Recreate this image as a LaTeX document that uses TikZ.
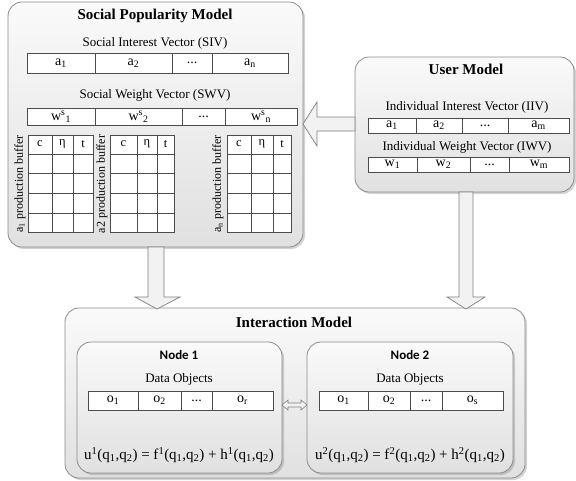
\documentclass[tikz,border=0pt]{standalone}
\usepackage{fontspec}
\setmainfont{Liberation Serif}
\newfontfamily\nodefont{Carlito}
\usetikzlibrary{shadows}
\newcommand\myellip{...}
\begin{document}
\begin{tikzpicture}[x=1pt,y=-1pt,
  panel/.style={draw=black!45, line width=0.8pt, rounded corners=14pt, top color=black!2, bottom color=black!12,
    drop shadow={shadow xshift=2pt,shadow yshift=-2pt,opacity=0.35}, anchor=north west, inner sep=0pt, outer sep=0pt},
  cell/.style={draw=black!70, line width=0.6pt, fill=white, anchor=north west, inner sep=0pt, outer sep=0pt,
    font=\fontsize{14}{15}\selectfont},
  gridl/.style={draw=black!70, line width=0.6pt},
  hdr/.style={inner sep=0pt, font=\fontsize{12.5}{13}\selectfont},
  blockarrow/.style={draw=black!50, line width=0.7pt, fill=black!5, line join=miter},
  ttl/.style={font=\fontsize{15}{17}\selectfont\bfseries},
  lbl/.style={font=\fontsize{13}{15}\selectfont},
  rlbl/.style={rotate=90, inner sep=0pt, font=\fontsize{12}{13}\selectfont},
  ntl/.style={font=\nodefont\fontsize{13}{15}\selectfont\bfseries},
  frm/.style={font=\fontsize{15}{17}\selectfont},
]
\useasboundingbox (0,0) rectangle (576,480);

% ---------- panels ----------
\node[panel, minimum width=295pt, minimum height=245pt] (spm) at (8,2) {};
\node[panel, minimum width=219pt, minimum height=135pt] (user) at (355,57) {};
\node[panel, minimum width=460pt, minimum height=170pt] (inter) at (65,308) {};
\node[panel, minimum width=205pt, minimum height=131pt] (node1) at (77,342) {};
\node[panel, minimum width=206pt, minimum height=131pt] (node2) at (307,342) {};

% ---------- Social Popularity Model ----------
\node[ttl] (spmt) at (155,16) {Social Popularity Model};
\node[lbl] (sivl) at (155,43) {Social Interest Vector (SIV)};
\foreach \a/\b/\t [count=\i] in {27/95/a\textsubscript{1},95/172/a\textsubscript{2},172/212/\myellip,212/288/a\textsubscript{n}}
  \node[cell, minimum width={(\b-\a)*1pt}, minimum height=20pt] (siv\i) at (\a,53) {\t};
\node[lbl] (swvl) at (155,95) {Social Weight Vector (SWV)};
\foreach \a/\b/\t [count=\i] in {27/95/w\textsuperscript{s}\textsubscript{1},95/182/w\textsuperscript{s}\textsubscript{2},182/225/\myellip,225/297/w\textsuperscript{s}\textsubscript{n}}
  \node[cell, minimum width={(\b-\a)*1pt}, minimum height=17pt] (swv\i) at (\a,108) {\t};

\foreach \xa/\xb/\xc/\xd [count=\k] in {28/52/73/93,110/137/157/174,227/251/273/291} {
  \draw[gridl, fill=white] (\xa,135) rectangle (\xd,232);
  \foreach \yy in {154,173,193,213} \draw[gridl] (\xa,\yy) -- (\xd,\yy);
  \draw[gridl] (\xb,135) -- (\xb,232) (\xc,135) -- (\xc,232);
  \node[hdr] (hc\k) at ({(\xa+\xb)/2},144) {c};
  \node[hdr] (he\k) at ({(\xb+\xc)/2},144) {η};
  \node[hdr] (ht\k) at ({(\xc+\xd)/2},144) {t};
}
\node[rlbl] (buf1) at (20,184) {a\textsubscript{1} production buffer};
\node[rlbl] (buf2) at (102,184) {a2 production buffer};
\node[rlbl] (buf3) at (218,184) {a\textsubscript{n} production buffer};

% ---------- User Model ----------
\node[ttl] (usert) at (466,69) {User Model};
\node[lbl] (iivl) at (467,107) {Individual Interest Vector (IIV)};
\foreach \a/\b/\t [count=\i] in {368/416/a\textsubscript{1},416/462/a\textsubscript{2},462/508/\myellip,508/569/a\textsubscript{m}}
  \node[cell, minimum width={(\b-\a)*1pt}, minimum height=15pt] (iiv\i) at (\a,118) {\t};
\node[lbl] (iwvl) at (467,147) {Individual Weight Vector (IWV)};
\foreach \a/\b/\t [count=\i] in {368/417/w\textsubscript{1},417/470/w\textsubscript{2},470/509/\myellip,509/569/w\textsubscript{m}}
  \node[cell, minimum width={(\b-\a)*1pt}, minimum height=15pt] (iwv\i) at (\a,157) {\t};

% ---------- Interaction Model ----------
\node[ttl] (intert) at (294,322) {Interaction Model};
\node[ntl] (n1t) at (179,355) {Node 1};
\node[lbl] (do1) at (179,379) {Data Objects};
\foreach \a/\b/\t [count=\i] in {88/138/o\textsubscript{1},138/181/o\textsubscript{2},181/212/\myellip,212/273/o\textsubscript{r}}
  \node[cell, minimum width={(\b-\a)*1pt}, minimum height=19pt] (oa\i) at (\a,391) {\t};
\node[frm] (f1) at (179,455) {u\textsuperscript{1}(q\textsubscript{1},q\textsubscript{2}) = f\textsuperscript{1}(q\textsubscript{1},q\textsubscript{2}) + h\textsuperscript{1}(q\textsubscript{1},q\textsubscript{2})};

\node[ntl] (n2t) at (410,355) {Node 2};
\node[lbl] (do2) at (410,379) {Data Objects};
\foreach \a/\b/\t [count=\i] in {319/368/o\textsubscript{1},368/410/o\textsubscript{2},410/442/\myellip,442/503/o\textsubscript{s}}
  \node[cell, minimum width={(\b-\a)*1pt}, minimum height=19pt] (ob\i) at (\a,391) {\t};
\node[frm] (f2) at (410,455) {u\textsuperscript{2}(q\textsubscript{1},q\textsubscript{2}) = f\textsuperscript{2}(q\textsubscript{1},q\textsubscript{2}) + h\textsuperscript{2}(q\textsubscript{1},q\textsubscript{2})};

% ---------- block arrows ----------
% User -> SPM
\draw[blockarrow] (303,124) -- (317,102) -- (317,117) -- (355,117) -- (355,131) -- (317,131) -- (317,146) -- cycle;
% SPM -> Interaction
\draw[blockarrow] (148,247) -- (164,247) -- (164,297) -- (180,297) -- (157,309) -- (135,297) -- (148,297) -- cycle;
% User -> Interaction
\draw[blockarrow] (459,192) -- (473,192) -- (473,297) -- (485,297) -- (466,309) -- (447,297) -- (459,297) -- cycle;
% Node1 <-> Node2
\draw[blockarrow, line width=0.6pt] (282,405) -- (288,400) -- (288,403) -- (301,403) -- (301,400) -- (307,405) -- (301,410) -- (301,407) -- (288,407) -- (288,410) -- cycle;
\end{tikzpicture}
\end{document}
